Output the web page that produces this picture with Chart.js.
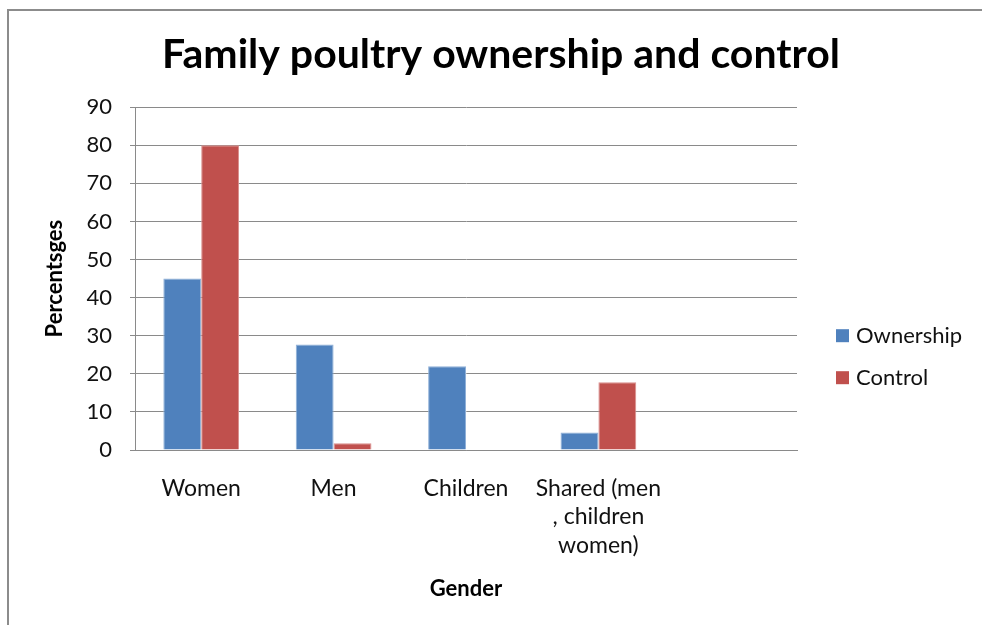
<!DOCTYPE html>
<html><head><meta charset="utf-8">
<script src="https://cdn.jsdelivr.net/npm/chart.js@4.4.1/dist/chart.umd.min.js"></script>
<style>
html,body{margin:0;padding:0;background:#fff;overflow:hidden}
#wrap{position:relative;width:982px;height:625px}
#frame{position:absolute;left:7px;top:9px;width:1000px;height:700px;border-top:2px solid #8c8c8c;border-left:2px solid #8c8c8c;pointer-events:none}
canvas{position:absolute;left:0;top:0}
</style></head><body>
<div id="wrap"><canvas id="c" width="982" height="625"></canvas><div id="frame"></div></div>
<script>
const categories = ["Women", "Men", "Children", ["Shared (men", ", children", "women)"], ""];
const ownership = [45, 27.7, 22, 4.6, null];
const control = [80, 1.8, 0, 17.8, null];
const seriesNames = ["Ownership", "Control"];
const yMin = 0, yMax = 90, yStep = 10;
const chartTitle = "Family poultry ownership and control";
const xTitle = "Gender";
const yTitle = "Percentsges";

Chart.defaults.font.family = 'Lato, "Open Sans", sans-serif';
Chart.defaults.color = '#111';

const sideLegend = {
  id: 'sideLegend',
  afterDraw(chart) {
    const {ctx, chartArea} = chart;
    ctx.save();
    ctx.font = '22px Lato, "Open Sans", sans-serif';
    ctx.textBaseline = 'middle';
    ctx.textAlign = 'left';
    chart.data.datasets.forEach((ds, i) => {
      const x = chartArea.right + 39;
      const y = chartArea.top + 228.5 + i * 42;
      ctx.fillStyle = ds.backgroundColor;
      ctx.fillRect(x, y - 6.5, 13, 13);
      ctx.fillStyle = '#111';
      ctx.fillText(ds.label, x + 20, y);
    });
    ctx.restore();
  }
};

new Chart(document.getElementById('c'), {
  type: 'bar',
  data: {
    labels: categories,
    datasets: [
      {label: seriesNames[0], data: ownership, backgroundColor: '#4F81BD', borderColor: '#8FB0D8', borderWidth: 1},
      {label: seriesNames[1], data: control, backgroundColor: '#C0504D', borderColor: '#DA8F8D', borderWidth: 1}
    ]
  },
  options: {
    responsive: false,
    animation: false,
    devicePixelRatio: 1,
    categoryPercentage: 0.572,
    barPercentage: 1,
    layout: {padding: {left: 20, right: 0, top: 0, bottom: 0}},
    plugins: {
      legend: {display: false},
      tooltip: {enabled: false},
      title: {
        display: true, text: chartTitle, color: '#000',
        font: {size: 41, weight: 'bold', lineHeight: 1.2},
        padding: {top: 30.4, bottom: 27.6}
      }
    },
    scales: {
      x: {
        grid: {display: false, drawTicks: false},
        border: {display: true, color: '#8a8a8a', width: 1},
        ticks: {font: {size: 23, lineHeight: 1.24}, padding: 24, maxRotation: 0, autoSkip: false, color: '#111'},
        title: {display: true, text: xTitle, font: {size: 22, weight: 'bold'}, color: '#000', padding: {top: 0, bottom: 23}},
        afterFit(s) { s.height = 175; }
      },
      y: {
        min: yMin, max: yMax,
        grid: {color: '#8a8a8a', lineWidth: 1, tickLength: 5},
        border: {display: true, color: '#8a8a8a', width: 1},
        ticks: {stepSize: yStep, font: {size: 22}, padding: 18, color: '#111'},
        title: {display: true, text: yTitle, font: {size: 22, weight: 'bold'}, color: '#000', padding: {top: 22, bottom: 0}},
        afterFit(s) { s.width = 115; }
      },
      yR: {
        position: 'right', display: true,
        grid: {display: false, drawTicks: false},
        border: {display: false},
        ticks: {display: false},
        afterFit(s) { s.width = 185; }
      }
    }
  },
  plugins: [sideLegend]
});
</script>
</body></html>
